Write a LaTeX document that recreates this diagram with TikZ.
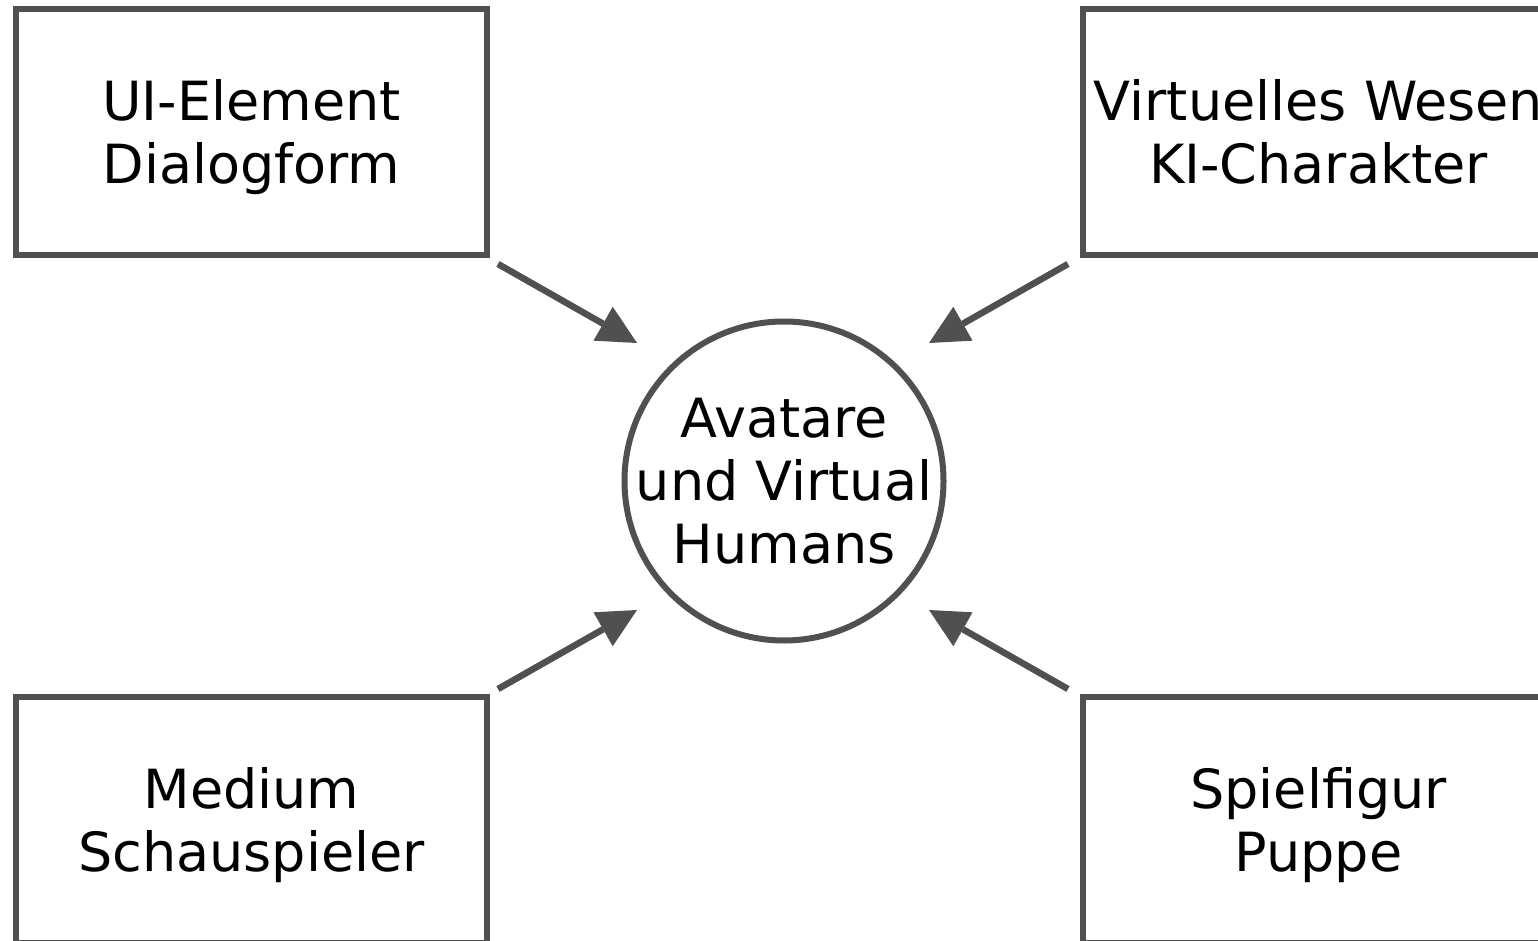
\documentclass[tikz,border=0pt]{standalone}
\usepackage{fontspec}
\setmainfont{DejaVu Sans}
\usetikzlibrary{arrows.meta}
\definecolor{edge}{HTML}{505050}
% last line of every label carries a descender strut so all labels sit alike
\newcommand{\lastline}[1]{#1\vphantom{g}}
\tikzset{
  label text/.style={align=center, font=\fontsize{54}{63}\selectfont, text=black},
  box/.style={draw=edge, line width=6pt, rectangle, minimum width=471pt, minimum height=246pt},
  hub/.style={draw=edge, line width=6pt, circle, minimum size=319pt, inner sep=0pt},
  link/.style={draw=edge, line width=6.5pt,
    -{Triangle[length=39pt,width=39pt,line width=0pt]}}
}
\begin{document}
\begin{tikzpicture}[x=1pt,y=-1pt]
  \useasboundingbox (0,0) rectangle (1538,941);
  \fill[white] (0,0) rectangle (1538,941);
  \clip (0,0) rectangle (1538,941);

  % centre and the four surrounding notions
  \node[hub] (c) at (784,481) {};
  \node[label text, yshift=-5pt] (ct) at (c.center) {Avatare\\und Virtual\\\lastline{Humans}};
  \node[box] (tl) at (251.5,132) {};
  \node[label text, yshift=-5pt] (tlt) at (tl.center) {UI-Element\\\lastline{Dialogform}};
  \node[box] (tr) at (1318.5,132) {};
  \node[label text, yshift=-5pt] (trt) at (tr.center) {Virtuelles Wesen\\\lastline{KI-Charakter}};
  \node[box] (bl) at (251.5,820) {};
  \node[label text, yshift=-5pt] (blt) at (bl.center) {Medium\\\lastline{Schauspieler}};
  \node[box] (br) at (1318.5,820) {};
  \node[label text, yshift=-5pt] (brt) at (br.center) {Spielfigur\\\lastline{Puppe}};

  % arrow ends
  \coordinate (tlS) at (498,264);  \coordinate (tlE) at (637,343);
  \coordinate (trS) at (1068,264); \coordinate (trE) at (929,343);
  \coordinate (blS) at (498,689);  \coordinate (blE) at (637,610);
  \coordinate (brS) at (1068,689); \coordinate (brE) at (929,610);

  \draw[link] (tlS) -- (tlE);
  \draw[link] (trS) -- (trE);
  \draw[link] (blS) -- (blE);
  \draw[link] (brS) -- (brE);
\end{tikzpicture}
\end{document}
